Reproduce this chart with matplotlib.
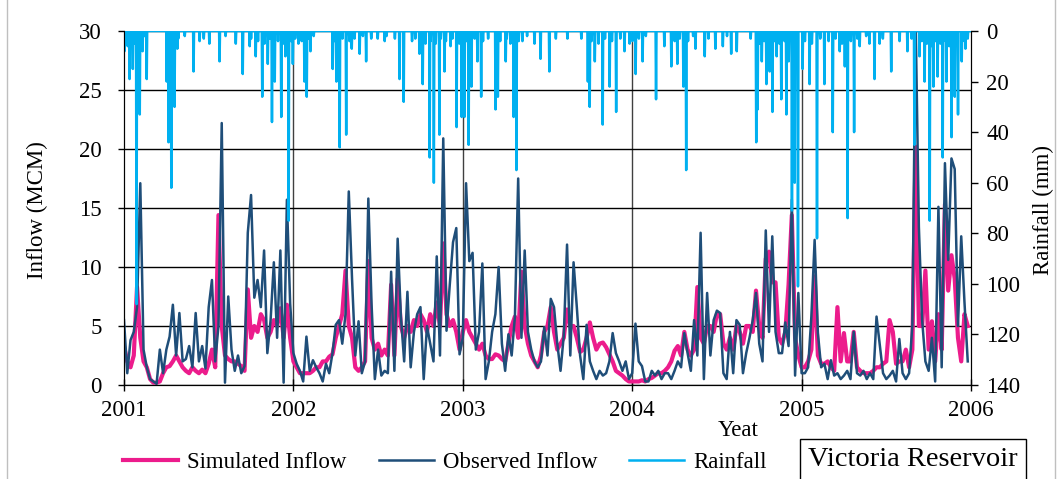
import numpy as np
import matplotlib
matplotlib.use("Agg")
import matplotlib.pyplot as plt
from matplotlib.patches import Rectangle

plt.rcParams["font.family"] = ["Liberation Serif", "DejaVu Serif"]
plt.rcParams["font.size"] = 16.5

# weekly inflow (MCM), one value per week from Jan 2001
obs_2001 = [5.5, 1.0, 3.8, 4.5, 6.6, 17.1, 3.0, 1.5, 0.5, 0.3, 0.1, 3.0, 1.0, 3.0, 4.1, 6.8, 2.5, 6.1, 2.0, 2.2,
            3.3, 1.5, 6.1, 2.0, 3.3, 1.4, 6.6, 8.9, 2.0, 5.0, 22.2, 0.2, 7.5, 3.0, 1.2, 2.5, 1.0, 1.6, 12.9, 16.1,
            7.4, 8.9, 6.6, 11.4, 2.7, 5.5, 10.4, 4.0, 11.4, 0.2, 15.7, 6.9]
obs_2002 = [2.7, 1.8, 1.2, 0.3, 4.1, 1.2, 2.1, 1.5, 1.0, 0.3, 1.8, 1.0, 2.7, 5.1, 5.5, 3.5, 6.0, 16.4, 9.0, 2.5,
            5.4, 1.0, 2.0, 15.8, 6.8, 0.5, 3.0, 0.8, 1.2, 1.0, 9.6, 1.2, 12.4, 5.8, 2.0, 7.9, 1.5, 4.5, 6.0, 6.6,
            0.5, 5.0, 3.5, 2.0, 10.9, 2.5, 20.9, 4.6, 8.5, 12.1, 13.3, 2.6]
obs_2003 = [4.0, 17.1, 10.5, 11.2, 3.0, 4.5, 10.3, 0.5, 2.0, 4.5, 6.0, 10.0, 3.5, 1.2, 4.3, 2.5, 5.8, 17.5, 4.0, 11.4,
            4.5, 3.0, 2.0, 1.5, 2.0, 4.9, 2.5, 7.3, 6.6, 3.5, 1.2, 4.2, 11.9, 2.5, 10.4, 6.6, 2.5, 0.5, 5.1, 2.0,
            1.2, 0.5, 1.2, 0.8, 1.0, 2.0, 4.4, 2.7, 2.0, 1.2, 2.0, 0.5]
obs_2004 = [1.0, 5.2, 2.0, 1.6, 0.3, 0.3, 1.2, 0.8, 1.2, 0.5, 1.0, 1.0, 0.5, 1.2, 2.0, 1.5, 4.4, 2.7, 1.2, 5.5,
            2.5, 12.9, 0.5, 7.8, 2.5, 5.5, 6.3, 6.1, 1.0, 0.5, 4.5, 1.0, 5.5, 5.1, 1.0, 2.7, 4.0, 5.5, 7.8, 3.5,
            2.0, 13.1, 4.5, 12.6, 4.5, 2.7, 2.7, 5.3, 3.3, 15.7, 0.8, 7.8]
obs_2005 = [1.0, 1.0, 1.5, 5.8, 12.3, 4.4, 1.5, 1.8, 0.5, 2.1, 0.8, 1.0, 0.5, 0.8, 1.2, 0.5, 4.5, 1.0, 0.8, 1.2,
            0.5, 1.0, 0.5, 5.8, 3.4, 1.0, 0.5, 0.8, 1.2, 0.3, 3.9, 1.0, 0.5, 1.0, 5.1, 31.0, 13.4, 5.5, 2.0, 1.2,
            4.0, 0.3, 15.1, 1.5, 18.8, 10.6, 19.2, 18.3, 5.0, 12.6, 7.0, 2.0]

sim_2001 = [3.3, 2.0, 1.5, 2.5, 8.3, 4.0, 2.0, 1.5, 0.5, 0.2, 0.2, 0.3, 1.0, 1.5, 1.6, 2.0, 2.5, 2.0, 1.5, 1.2,
            1.0, 1.5, 1.2, 1.0, 1.3, 1.0, 1.8, 3.0, 1.5, 14.4, 5.0, 2.5, 2.2, 2.0, 2.0, 1.8, 1.6, 1.2, 8.1, 4.0,
            5.0, 4.5, 6.0, 5.5, 4.0, 4.5, 5.5, 5.0, 6.5, 4.0, 6.8, 4.0]
sim_2002 = [2.0, 1.5, 1.0, 1.0, 1.0, 1.0, 1.2, 1.5, 1.5, 2.0, 2.0, 2.4, 2.6, 4.0, 5.0, 6.0, 9.7, 5.0, 4.0, 1.5,
            1.2, 1.5, 2.0, 10.5, 4.0, 3.0, 3.5, 2.5, 3.0, 2.5, 8.5, 2.5, 9.0, 5.0, 4.0, 5.0, 4.5, 5.5, 5.0, 6.0,
            5.5, 4.5, 6.0, 5.0, 7.0, 5.0, 12.0, 6.0, 5.0, 5.5, 4.5, 3.0]
sim_2003 = [4.5, 5.5, 4.5, 4.0, 3.5, 3.0, 3.5, 2.5, 2.2, 2.2, 2.6, 2.5, 2.2, 2.0, 3.5, 5.0, 5.8, 4.0, 9.6, 5.0,
            3.5, 2.5, 2.0, 1.5, 2.5, 4.5, 5.0, 6.6, 4.5, 3.0, 3.5, 4.0, 6.4, 5.0, 5.0, 4.0, 2.8, 3.0, 4.0, 5.3,
            4.0, 3.0, 3.5, 3.6, 3.2, 2.6, 2.0, 1.2, 1.0, 0.8, 0.5, 0.3]
sim_2004 = [0.3, 0.3, 0.3, 0.4, 0.3, 0.5, 0.6, 0.8, 1.0, 1.0, 1.2, 1.5, 2.0, 2.9, 3.3, 2.5, 4.5, 3.0, 2.5, 3.0,
            8.3, 4.0, 3.5, 5.0, 5.0, 4.5, 6.0, 6.0, 3.5, 3.0, 4.0, 3.0, 5.0, 4.5, 3.5, 5.0, 5.0, 4.5, 8.0, 5.0,
            4.0, 10.7, 11.3, 8.7, 8.7, 4.0, 3.5, 4.5, 8.5, 14.4, 4.0, 2.5]
sim_2005 = [1.5, 1.5, 2.0, 3.0, 9.2, 2.5, 1.8, 1.8, 2.0, 1.5, 1.2, 6.6, 2.0, 4.4, 2.0, 2.0, 4.5, 1.5, 1.2, 1.0,
            1.0, 1.0, 1.2, 1.5, 1.5, 1.8, 2.0, 5.5, 4.5, 1.8, 2.0, 2.0, 3.0, 1.5, 3.0, 20.2, 5.0, 5.0, 9.7, 3.0,
            5.4, 2.0, 6.0, 3.0, 15.3, 8.0, 11.0, 9.0, 4.0, 2.0, 6.0, 5.0]

# rainfall events (decimal year, mm); all other days are dry
rain_time = [2001.004, 2001.010, 2001.021, 2001.033, 2001.040, 2001.051, 2001.060, 2001.074, 2001.080, 2001.092,
             2001.100, 2001.110, 2001.120, 2001.133, 2001.251, 2001.260, 2001.263, 2001.279, 2001.290, 2001.299,
             2001.316, 2001.320, 2001.360, 2001.411, 2001.446, 2001.470, 2001.505, 2001.564, 2001.600, 2001.659,
             2001.702, 2001.741, 2001.750, 2001.777, 2001.790, 2001.816, 2001.830, 2001.848, 2001.860, 2001.873,
             2001.889, 2001.910, 2001.929, 2001.940, 2001.954, 2001.973, 2001.985, 2001.997,
             2002.010, 2002.030, 2002.050, 2002.066, 2002.078, 2002.090, 2002.102, 2002.120, 2002.231, 2002.240,
             2002.255, 2002.260, 2002.273, 2002.290, 2002.312, 2002.330, 2002.344, 2002.360, 2002.391, 2002.410,
             2002.430, 2002.460, 2002.497, 2002.538, 2002.550, 2002.600, 2002.627, 2002.652, 2002.700, 2002.720,
             2002.745, 2002.764, 2002.780, 2002.804, 2002.810, 2002.828, 2002.840, 2002.863, 2002.870, 2002.893,
             2002.900, 2002.928, 2002.940, 2002.962, 2002.980, 2002.993,
             2003.011, 2003.020, 2003.034, 2003.040, 2003.050, 2003.070, 2003.087, 2003.109, 2003.120, 2003.150,
             2003.192, 2003.207, 2003.220, 2003.253, 2003.260, 2003.280, 2003.300, 2003.316, 2003.330, 2003.353,
             2003.380, 2003.424, 2003.459, 2003.512, 2003.550, 2003.619, 2003.700, 2003.738, 2003.749, 2003.760,
             2003.778, 2003.800, 2003.827, 2003.840, 2003.867, 2003.880, 2003.906, 2003.930, 2003.955, 2003.985,
             2004.000, 2004.020, 2004.040, 2004.061, 2004.080, 2004.142, 2004.191, 2004.231, 2004.250, 2004.268,
             2004.280, 2004.303, 2004.319, 2004.330, 2004.360, 2004.374, 2004.427, 2004.450, 2004.492, 2004.534,
             2004.560, 2004.585, 2004.616, 2004.700, 2004.733, 2004.740, 2004.750, 2004.764, 2004.780, 2004.792,
             2004.811, 2004.820, 2004.829, 2004.840, 2004.852, 2004.870, 2004.880, 2004.900, 2004.910, 2004.923,
             2004.944, 2004.959, 2004.970, 2004.978,
             2005.006, 2005.020, 2005.047, 2005.060, 2005.091, 2005.110, 2005.135, 2005.160, 2005.185, 2005.200,
             2005.224, 2005.240, 2005.254, 2005.273, 2005.290, 2005.309, 2005.330, 2005.342, 2005.380, 2005.401,
             2005.431, 2005.460, 2005.480, 2005.530, 2005.579, 2005.626, 2005.650, 2005.667, 2005.697, 2005.710,
             2005.726, 2005.740, 2005.756, 2005.770, 2005.779, 2005.790, 2005.803, 2005.820, 2005.834, 2005.850,
             2005.856, 2005.870, 2005.885, 2005.903, 2005.910, 2005.923, 2005.944, 2005.950, 2005.968, 2005.980]
rain_mm = [8, 3, 6, 19, 4, 15, 5, 108, 3, 33,
           4, 8, 2, 19, 20, 4, 44, 62, 6, 30,
           7, 3, 2, 16, 4, 3, 5, 12, 2, 5,
           17, 6, 3, 10, 4, 26, 5, 13, 3, 36,
           20, 4, 34, 5, 10, 75, 4, 13,
           3, 5, 4, 20, 26, 3, 8, 2, 15, 4,
           20, 5, 46, 3, 41, 4, 7, 3, 9, 2,
           12, 3, 3, 4, 2, 3, 19, 28, 4, 3,
           9, 21, 5, 50, 4, 60, 5, 41, 3, 16,
           4, 6, 3, 38, 5, 34,
           34, 4, 45, 5, 22, 3, 12, 26, 4, 3,
           31, 26, 4, 12, 3, 5, 34, 55, 4, 4,
           2, 5, 11, 16, 3, 3, 3, 20, 30, 4,
           12, 5, 37, 3, 22, 4, 32, 3, 8, 5,
           4, 17, 3, 12, 2, 27, 6, 14, 4, 13,
           3, 22, 55, 4, 2, 7, 10, 3, 7, 6,
           2, 9, 8, 3, 44, 31, 5, 12, 4, 21,
           16, 5, 32, 4, 10, 5, 27, 4, 33, 12,
           71, 60, 6, 101,
           15, 4, 21, 5, 82, 3, 21, 4, 40, 3,
           8, 5, 14, 74, 4, 40, 3, 6, 2, 5,
           19, 5, 3, 16, 4, 8, 3, 45, 10, 4,
           20, 5, 75, 6, 22, 4, 18, 5, 50, 4,
           20, 6, 42, 26, 5, 33, 12, 4, 7, 3]

years = [2001, 2002, 2003, 2004, 2005, 2006]

obs = np.array(obs_2001 + obs_2002 + obs_2003 + obs_2004 + obs_2005)
sim = np.array(sim_2001 + sim_2002 + sim_2003 + sim_2004 + sim_2005)
t_week = 2001 + np.arange(len(obs)) / 52

t_day = 2001 + np.arange(1826) / 365.2
rain = np.zeros(len(t_day))
idx = np.round((np.array(rain_time) - 2001) * 365.2).astype(int)
rain[idx] = rain_mm

fig = plt.figure(figsize=(10.62, 4.79), dpi=100)
ax = fig.add_axes([124 / 1062, 1 - 385 / 479, 847 / 1062, 354 / 479])

ax.plot(t_week, sim, color="#EC1C8C", lw=3.0, label="Simulated Inflow", zorder=3)
ax.plot(t_week, obs, color="#1F4E79", lw=1.8, label="Observed Inflow", zorder=4)
ax.set_xlim(2001, 2006)
ax.set_ylim(0, 30)
ax.set_yticks(range(0, 31, 5))
ax.set_xticks(years)
ax.set_xticklabels([str(y) for y in years])
ax.grid(axis="y", color="black", lw=1)
for yr in years[1:-1]:
    ax.axvline(yr, color="#404040", lw=1, zorder=1)
ax.spines["top"].set_visible(False)
ax.tick_params(axis="y", direction="out", length=4, pad=12, width=1)
ax.tick_params(axis="x", direction="inout", length=8, pad=7, width=1)

ax2 = ax.twinx()
ax2.plot(t_day, rain, color="#00B0F0", lw=1.8, label="Rainfall")
ax2.set_ylim(140, 0)
ax2.set_yticks(range(0, 141, 20))
ax2.spines["top"].set_visible(False)
ax2.tick_params(axis="y", direction="out", length=5, pad=6, width=1)

fig.text(37 / 1062, 1 - 210 / 479, "Inflow (MCM)", rotation=90, ha="center", va="center")
fig.text(1043 / 1062, 1 - 210 / 479, "Rainfall (mm)", rotation=90, ha="center", va="center")
fig.text(738 / 1062, 1 - 430 / 479, "Yeat", ha="center", va="center")

h1, l1 = ax.get_legend_handles_labels()
h2, l2 = ax2.get_legend_handles_labels()
fig.legend(h1 + h2, l1 + l2, loc="center", bbox_to_anchor=(445 / 1062, 1 - 462 / 479), ncol=3,
           frameon=False, handlelength=2.4, handletextpad=0.4, columnspacing=1.4)

fig.text(913 / 1062, 1 - 460 / 479, "Victoria Reservoir", fontsize=20.5, ha="center", va="center",
         bbox=dict(boxstyle="square,pad=0.3", fc="white", ec="black", lw=1))

fig.patches.append(Rectangle((7 / 1062, -0.01), 1048 / 1062, 1.02, transform=fig.transFigure,
                             fill=False, ec="#BFBFBF", lw=1))

fig.savefig("out.png", dpi=100)
